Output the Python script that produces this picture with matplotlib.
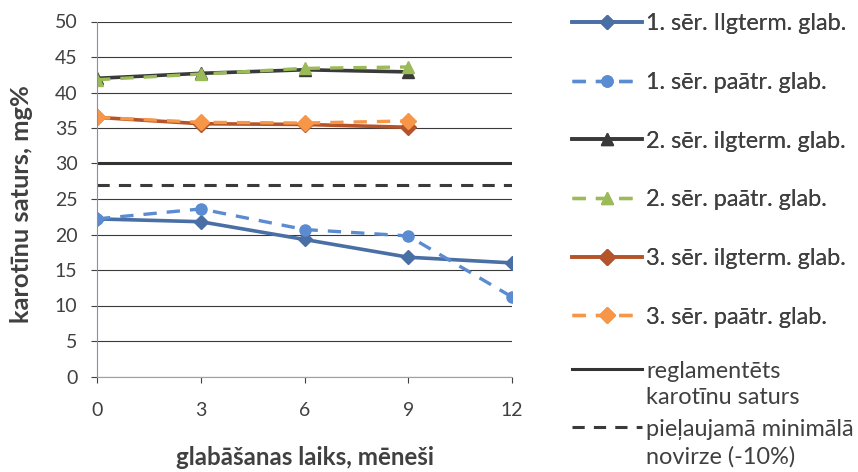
import matplotlib
matplotlib.use("Agg")
import matplotlib.pyplot as plt

plt.rcParams['font.family'] = ['Lato', 'DejaVu Sans']

months = [0, 3, 6, 9, 12]
months9 = [0, 3, 6, 9]

s1_long = [22.2, 21.8, 19.3, 16.8, 16.0]
s1_fast = [22.2, 23.6, 20.7, 19.8, 11.2]
s2_long = [42.0, 42.7, 43.2, 42.9]
s2_fast = [41.8, 42.6, 43.4, 43.6]
s3_long = [36.5, 35.6, 35.5, 35.1]
s3_fast = [36.5, 35.8, 35.7, 36.0]
norm = [30, 30, 30, 30, 30]
norm_min = [27, 27, 27, 27, 27]

labels = ['1. sēr. Ilgterm. glab.', '1. sēr. paātr. glab.',
          '2. sēr. ilgterm. glab.', '2. sēr. paātr. glab.',
          '3. sēr. ilgterm. glab.', '3. sēr. paātr. glab.',
          'reglamentēts\nkarotīnu saturs', 'pieļaujamā minimālā\nnovirze (-10%)']
xlabel = 'glabāšanas laiks, mēneši'
ylabel = 'karotīnu saturs, mg%'

txt = '#404040'
W, H = 858, 472
fig = plt.figure(figsize=(W / 100, H / 100), dpi=100)
renderer = fig.canvas.get_renderer()


def measure(s, size=20, weight='normal'):
    t = fig.text(0, 0, s, fontsize=size, fontweight=weight)
    bb = t.get_window_extent(renderer=renderer)
    t.remove()
    return bb.width, bb.height


# pick font sizes so text widths match the original (pixels)
xl_fs = 20 * 258 / measure(xlabel, weight='bold')[0]
yl_fs = 20 * 238 / measure(ylabel, weight='bold')[0]
lg_fs = 20 * 201 / measure(labels[0])[0]
em = lg_fs * 100 / 72
line_h = measure('Ag', lg_fs)[1]

ax = fig.add_axes([97 / W, 1 - 376.5 / H, 415 / W, 355 / H])

h1, = ax.plot(months, s1_long, color='#4A6FA5', lw=2.6, marker='D', ms=7, label=labels[0])
h2, = ax.plot(months, s1_fast, color='#5B8BD0', lw=2.4, ls=(0, (4, 3)), marker='o', ms=8, label=labels[1])
h3, = ax.plot(months9, s2_long, color='#3A3A3A', lw=2.6, marker='^', ms=8, label=labels[2])
h4, = ax.plot(months9, s2_fast, color='#9BBB59', lw=2.4, ls=(0, (4, 3)), marker='^', ms=9, label=labels[3])
h5, = ax.plot(months9, s3_long, color='#B5532A', lw=2.6, marker='D', ms=8, label=labels[4])
h6, = ax.plot(months9, s3_fast, color='#F79646', lw=2.4, ls=(0, (4, 3)), marker='D', ms=8, label=labels[5])
h7, = ax.plot(months, norm, color='#333333', lw=2.2, label=labels[6])
h8, = ax.plot(months, norm_min, color='#3A3A3A', lw=2.2, ls=(0, (4, 3)), label=labels[7])

ax.set_xlim(0, 12)
ax.set_ylim(0, 50)
ax.set_xticks(months)
ax.set_yticks(range(0, 51, 5))
ax.grid(axis='y', color='#3A3A3A', lw=0.8)
ax.set_axisbelow(True)
for s in ['top', 'right']:
    ax.spines[s].set_visible(False)
ax.spines['left'].set_color('#8090B0')
ax.spines['bottom'].set_color('#A0A0A0')
ax.tick_params(axis='both', labelsize=14, colors=txt, length=4)
ax.tick_params(axis='x', pad=14)
ax.tick_params(axis='y', pad=10)
ax.set_xlabel(xlabel, fontsize=xl_fs, fontweight='bold', color=txt, labelpad=20)
ax.set_ylabel(ylabel, fontsize=yl_fs, fontweight='bold', color=txt)
ax.yaxis.set_label_coords(-0.155, 0.485)

# legend: entry centres ~58.6 px apart, first at y=24 px
common = dict(loc='upper left', frameon=False, fontsize=lg_fs, borderpad=0,
              borderaxespad=0, handlelength=70 / em, handletextpad=4 / em,
              labelcolor=txt)
leg1 = fig.legend([h1, h2, h3, h4, h5, h6], labels[:6],
                  bbox_to_anchor=(572 / W, 1 - (24 - line_h / 2) / H),
                  labelspacing=(58.6 - line_h) / em, **common)
lsp = 27.5 / line_h
leg2 = fig.legend([h7, h8], labels[6:],
                  bbox_to_anchor=(572 / W, 1 - (371 - line_h / 2) / H),
                  labelspacing=(60 - line_h - 27.5) / em, **common)
for t in leg2.get_texts():
    t.set_linespacing(lsp)
# put the handle of the two-line entries next to the first text line
try:
    for col in leg2._legend_handle_box.get_children():
        for row in col.get_children():
            row.align = 'top'
except AttributeError:
    pass
fig.add_artist(leg1)

fig.savefig('out.png', dpi=100)
